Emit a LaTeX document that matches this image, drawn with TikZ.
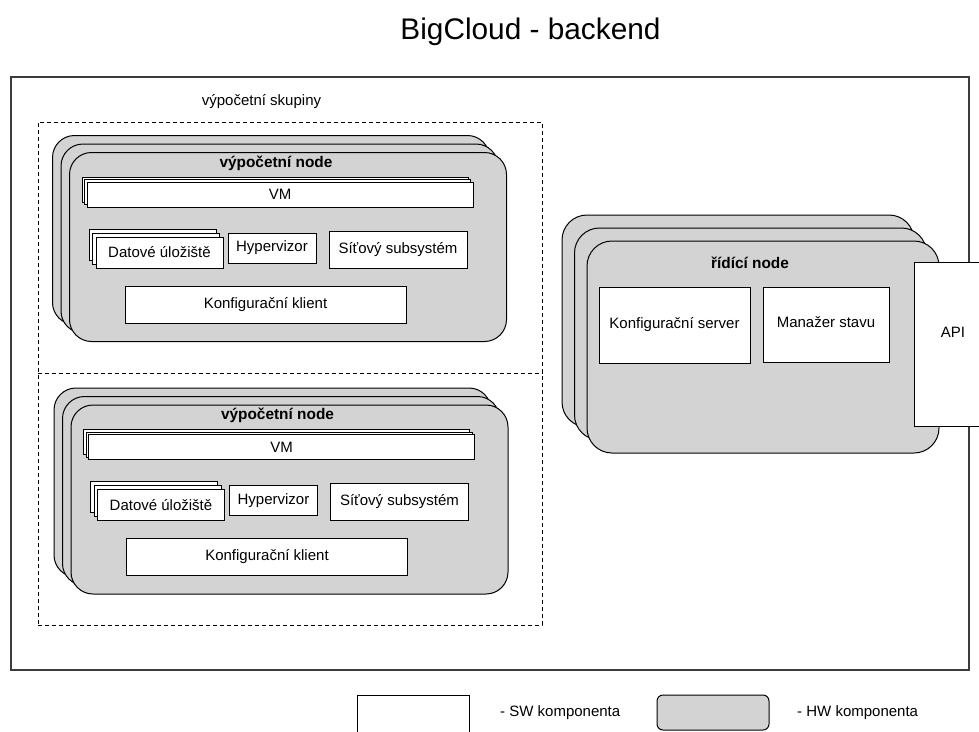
\documentclass[tikz,border=0pt]{standalone}
\usepackage{fontspec}
\setmainfont{Liberation Sans}
\definecolor{hwgray}{RGB}{211,211,211}
\definecolor{framegray}{RGB}{60,60,60}
\tikzset{
  txt/.style={font=\fontsize{15}{18}\selectfont, inner sep=0pt},
  swbox/.style={draw=black, fill=white, line width=1pt, inner sep=0pt, font=\fontsize{15}{18}\selectfont},
  hwbox/.style={draw=black, fill=hwgray, line width=1pt, inner sep=0pt, rounded corners=#1},
  hwbox/.default=22pt,
  titlebold/.style={font=\fontsize{15.4}{18}\selectfont\bfseries, inner sep=0pt},
  group/.style={draw=black, line width=0.9pt, dash pattern=on 4pt off 3pt},
}
\begin{document}
\begin{tikzpicture}[x=1pt, y=-1pt]
\useasboundingbox (0,0) rectangle (979,731);

% heading
\node[font=\fontsize{29.8}{34}\selectfont, inner sep=0pt] (title) at (530.5,32) {BigCloud - backend};

% enclosing backend frame
\node[draw=framegray, line width=1.4pt, minimum width=958, minimum height=593, inner sep=0pt] (frame) at (490,373.5) {};

% group of compute nodes
\node[group, minimum width=504, minimum height=503, inner sep=0pt] (grp) at (290,373.5) {};
\draw[group] (grp.west) -- (grp.east);
\node[txt] (grplbl) at (261.5,102) {výpočetní skupiny};

% one stacked compute node: #1 = name prefix, (#2,#3) = centre of the front card
\newcommand{\computenode}[3]{%
  \foreach \k/\sfx in {2/b,1/m} {
    \node[hwbox, minimum width=437, minimum height=189] (#1\sfx) at ({#2-8.5*\k},{#3-8.5*\k}) {};
  }
  \node[hwbox, minimum width=437, minimum height=189] (#1) at (#2,#3) {};
  \node[titlebold] (#1title) at ({#2-12},{#3-84}) {výpočetní node};
  % virtual machines
  \foreach \k/\sfx in {2/b,1/m} {
    \node[swbox, minimum width=386, minimum height=25] (#1vm\sfx) at ({#2-8-2.5*\k},{#3-52.5-2.5*\k}) {};
  }
  \node[swbox, minimum width=386, minimum height=25] (#1vm) at ({#2-8},{#3-52.5}) {VM};
  % storage
  \foreach \k/\sfx in {2/b,1/m} {
    \node[swbox, minimum width=127, minimum height=31] (#1st\sfx) at ({#2-128.5-3.5*\k},{#3+5.5-4*\k}) {};
  }
  \node[swbox, minimum width=127, minimum height=31] (#1st) at ({#2-128.5},{#3+5.5}) {Datové úložiště};
  \node[swbox, minimum width=88, minimum height=30] (#1hv) at ({#2-16},{#3+1}) {Hypervizor};
  \node[swbox, minimum width=138, minimum height=37] (#1net) at ({#2+110},{#3+2.5}) {Síťový subsystém};
  \node[swbox, minimum width=281, minimum height=37] (#1cfg) at ({#2-22.5},{#3+57.5}) {Konfigurační klient};
}

\computenode{cnA}{288}{247}
\computenode{cnB}{289.5}{499.5}

% stacked control node
\node[hwbox=25pt, minimum width=352, minimum height=212] (ctlb) at (738,321) {};
\node[hwbox=25pt, minimum width=352, minimum height=212] (ctlm) at (750.5,334) {};
\node[hwbox=25pt, minimum width=352, minimum height=212] (ctl) at (763,347) {};
\node[titlebold] (ctltitle) at (750,263) {řídící node};
\node[swbox, minimum width=151, minimum height=76] (cfgsrv) at (674.5,325) {Konfigurační server};
\node[swbox, minimum width=126, minimum height=75] (state) at (826,324.5) {};
\node[txt] (statelbl) at (826,322) {Manažer stavu};

% API in front of the control node
\node[swbox, minimum width=86, minimum height=164] (api) at (957,344) {};
\node[txt] (apilbl) at (953,332) {API};

% legend
\node[swbox, minimum width=112, minimum height=64] (legsw) at (413,727) {};
\node[txt, anchor=west] (legswlbl) at (500,713) {- SW komponenta};
\node[hwbox=6pt, minimum width=112, minimum height=35] (leghw) at (713,712.5) {};
\node[txt, anchor=west] (leghwlbl) at (797,713) {- HW komponenta};
\end{tikzpicture}
\end{document}
